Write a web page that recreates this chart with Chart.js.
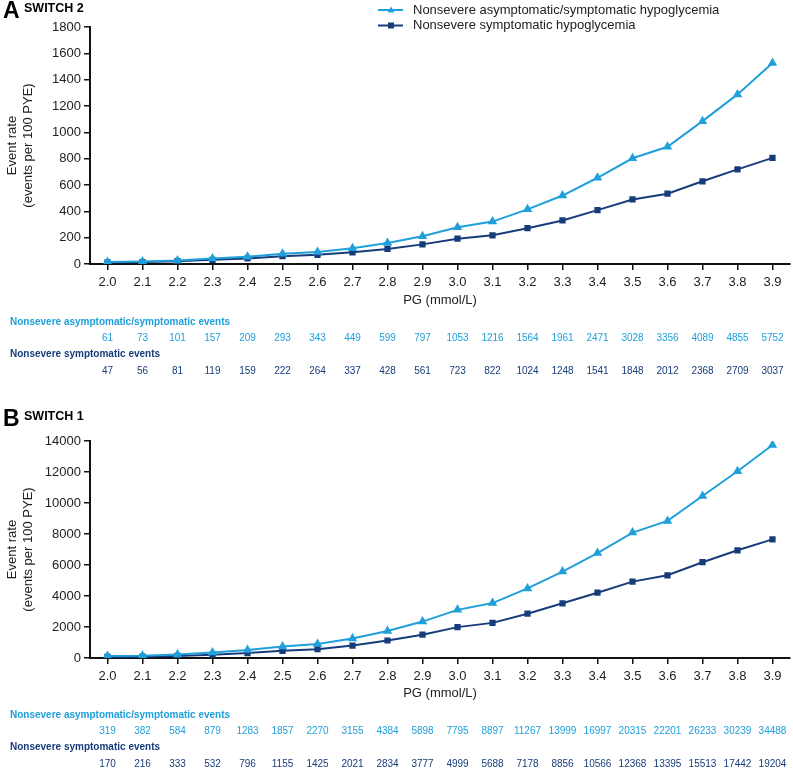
<!DOCTYPE html>
<html>
<head>
<meta charset="utf-8">
<script src="https://cdn.jsdelivr.net/npm/chart.js@4"></script>
<style>
    html, body { margin: 0; padding: 0; background: #fff; overflow: hidden; }
    .panel { position: relative; width: 796px; }
    #panelA { height: 385px; }
    #panelB { height: 384px; }
</style>
</head>
<body>
<div class="panel" id="panelA"><canvas id="chartA"></canvas></div>
<div class="panel" id="panelB"><canvas id="chartB"></canvas></div>
<script>
const pgLabels = ['2.0', '2.1', '2.2', '2.3', '2.4', '2.5', '2.6', '2.7', '2.8', '2.9',
                  '3.0', '3.1', '3.2', '3.3', '3.4', '3.5', '3.6', '3.7', '3.8', '3.9'];

// SWITCH 2 event rates (events per 100 PYE)
const rateAllA  = [16, 19, 27, 42, 55, 78, 91, 119, 159, 211, 279, 322, 415, 520, 655, 803, 890, 1085, 1288, 1526];
const rateSympA = [12, 15, 21, 32, 42, 59, 70, 89, 114, 149, 192, 218, 272, 331, 409, 490, 534, 628, 719, 806];
const eventsAllA  = [61, 73, 101, 157, 209, 293, 343, 449, 599, 797, 1053, 1216, 1564, 1961, 2471, 3028, 3356, 4089, 4855, 5752];
const eventsSympA = [47, 56, 81, 119, 159, 222, 264, 337, 428, 561, 723, 822, 1024, 1248, 1541, 1848, 2012, 2368, 2709, 3037];

// SWITCH 1 event rates (events per 100 PYE)
const rateAllB  = [127, 152, 233, 350, 511, 740, 904, 1257, 1747, 2350, 3106, 3545, 4489, 5577, 6772, 8094, 8845, 10451, 12047, 13740];
const rateSympB = [68, 86, 133, 212, 317, 460, 568, 805, 1129, 1505, 1992, 2266, 2860, 3528, 4210, 4927, 5337, 6180, 6949, 7651];
const eventsAllB  = [319, 382, 584, 879, 1283, 1857, 2270, 3155, 4384, 5898, 7795, 8897, 11267, 13999, 16997, 20315, 22201, 26233, 30239, 34488];
const eventsSympB = [170, 216, 333, 532, 796, 1155, 1425, 2021, 2834, 3777, 4999, 5688, 7178, 8856, 10566, 12368, 13395, 15513, 17442, 19204];

const lightBlue = '#1fa0da';
const navy = '#173c7a';
const fontFamily = "'Liberation Sans', Arial, sans-serif";

function panelPlugin(p) {
    return {
        id: 'panelExtras',
        afterDraw(chart) {
            const ctx = chart.ctx;
            const xScale = chart.scales.x;
            ctx.save();
            ctx.textBaseline = 'middle';

            // panel letter + study name
            ctx.fillStyle = '#000';
            ctx.textAlign = 'left';
            ctx.font = `bold 23px ${fontFamily}`;
            ctx.fillText(p.letter, 3, p.titleY + 3);
            ctx.font = `bold 12.5px ${fontFamily}`;
            ctx.fillText(p.study, 24, p.titleY);

            // event counts under the axis
            const rows = [
                { head: 'Nonsevere asymptomatic/symptomatic events', values: p.eventsAll, color: lightBlue },
                { head: 'Nonsevere symptomatic events', values: p.eventsSymp, color: navy }
            ];
            rows.forEach((row, r) => {
                const y = p.tableY + r * 32.5;
                ctx.fillStyle = row.color;
                ctx.textAlign = 'left';
                ctx.font = `bold 10px ${fontFamily}`;
                ctx.fillText(row.head, 10, y);
                ctx.textAlign = 'center';
                ctx.font = `10px ${fontFamily}`;
                row.values.forEach((v, i) => {
                    ctx.fillText(String(v), xScale.getPixelForValue(i), y + 16.5);
                });
            });

            // legend (only on top panel)
            if (p.legend) {
                chart.data.datasets.forEach((ds, i) => {
                    const y = 10 + i * 15.5;
                    ctx.strokeStyle = ds.borderColor;
                    ctx.fillStyle = ds.borderColor;
                    ctx.lineWidth = 2;
                    ctx.beginPath();
                    ctx.moveTo(378, y);
                    ctx.lineTo(403, y);
                    ctx.stroke();
                    ctx.beginPath();
                    if (ds.pointStyle === 'triangle') {
                        ctx.moveTo(391, y - 3.5);
                        ctx.lineTo(394.5, y + 2.5);
                        ctx.lineTo(387.5, y + 2.5);
                        ctx.closePath();
                    } else {
                        ctx.rect(388, y - 3, 6, 6);
                    }
                    ctx.fill();
                    ctx.fillStyle = '#222';
                    ctx.textAlign = 'left';
                    ctx.font = `13px ${fontFamily}`;
                    ctx.fillText(ds.label, 413, y);
                });
            }
            ctx.restore();
        }
    };
}

function makeChart(id, p) {
    const ctx = document.getElementById(id).getContext('2d');
    return new Chart(ctx, {
        type: 'line',
        data: {
            labels: pgLabels,
            datasets: [
                {
                    label: 'Nonsevere asymptomatic/symptomatic hypoglycemia',
                    data: p.rateAll,
                    borderColor: lightBlue,
                    backgroundColor: lightBlue,
                    pointStyle: 'triangle',
                    pointRadius: 3.5,
                    borderWidth: 2,
                    tension: 0
                },
                {
                    label: 'Nonsevere symptomatic hypoglycemia',
                    data: p.rateSymp,
                    borderColor: navy,
                    backgroundColor: navy,
                    pointStyle: 'rect',
                    pointRadius: 3,
                    borderWidth: 2,
                    tension: 0
                }
            ]
        },
        options: {
            responsive: true,
            maintainAspectRatio: false,
            animation: false,
            layout: { padding: { top: p.top, left: 0, right: 0, bottom: 0 } },
            plugins: {
                legend: { display: false },
                tooltip: { enabled: false }
            },
            scales: {
                x: {
                    offset: true,
                    grid: { display: true, offset: false, drawOnChartArea: false, drawTicks: true, tickLength: 6, color: '#111', lineWidth: 1.5 },
                    border: { display: true, color: '#111', width: 2 },
                    ticks: { color: '#222', font: { size: 13, family: fontFamily }, padding: 5, maxRotation: 0, autoSkip: false },
                    title: {
                        display: true,
                        text: 'PG (mmol/L)',
                        color: '#222',
                        font: { size: 13, family: fontFamily },
                        padding: { top: 0, bottom: p.xTitlePad }
                    },
                    afterFit(scale) { scale.height = p.xHeight; }
                },
                y: {
                    min: 0,
                    max: p.max,
                    grid: { drawOnChartArea: false, tickLength: 6, color: '#111', lineWidth: 1.5 },
                    border: { display: true, color: '#111', width: 2 },
                    ticks: {
                        stepSize: p.step,
                        color: '#222',
                        font: { size: 13, family: fontFamily },
                        padding: 3,
                        callback: v => String(v)
                    },
                    title: {
                        display: true,
                        text: ['Event rate', '(events per 100 PYE)'],
                        color: '#222',
                        font: { size: 13, family: fontFamily, lineHeight: 1.25 },
                        padding: { top: 4, bottom: 0 }
                    },
                    afterFit(scale) { scale.width = 90; }
                }
            }
        },
        plugins: [panelPlugin(p)]
    });
}

makeChart('chartA', {
    letter: 'A', study: 'SWITCH 2', titleY: 9, legend: true,
    rateAll: rateAllA, rateSymp: rateSympA, eventsAll: eventsAllA, eventsSymp: eventsSympA,
    max: 1800, step: 200, top: 27, xHeight: 121, xTitlePad: 77, tableY: 322
});

makeChart('chartB', {
    letter: 'B', study: 'SWITCH 1', titleY: 32, legend: false,
    rateAll: rateAllB, rateSymp: rateSympB, eventsAll: eventsAllB, eventsSymp: eventsSympB,
    max: 14000, step: 2000, top: 56, xHeight: 111, xTitlePad: 68, tableY: 330
});
</script>
</body>
</html>
